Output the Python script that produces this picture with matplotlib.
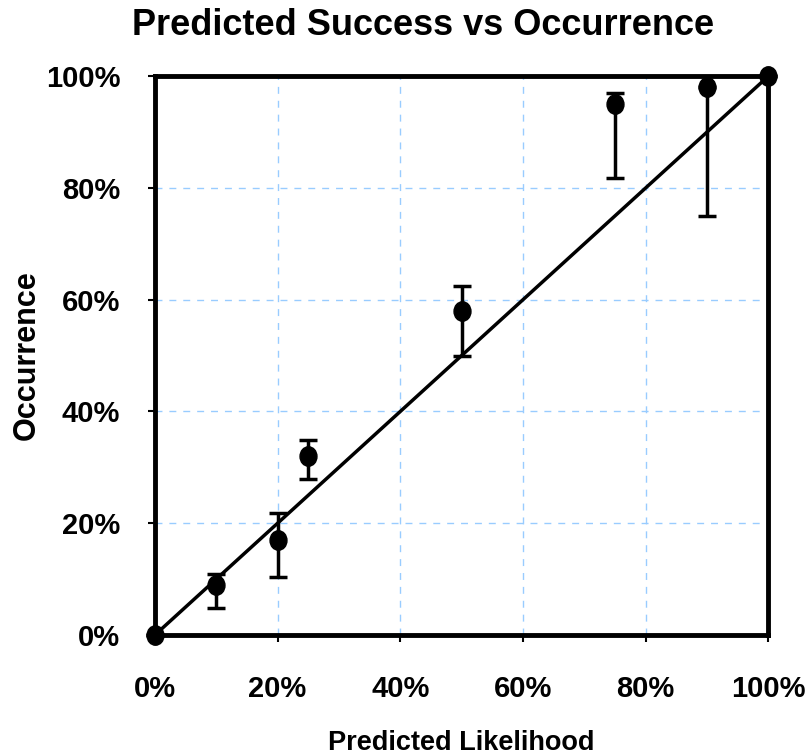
import matplotlib.pyplot as plt
from matplotlib.path import Path
from matplotlib.transforms import Affine2D
from matplotlib.ticker import PercentFormatter

plt.rcParams['font.family'] = ['Liberation Sans', 'DejaVu Sans']
plt.rcParams['font.weight'] = 'bold'

# predicted likelihood vs observed occurrence
predicted = [0.0, 0.10, 0.20, 0.25, 0.50, 0.75, 0.90, 1.0]
occurrence = [0.0, 0.09, 0.17, 0.32, 0.58, 0.95, 0.98, 1.0]
err_low = [0.0, 0.042, 0.066, 0.041, 0.081, 0.132, 0.23, 0.0]
err_high = [0.0, 0.019, 0.049, 0.029, 0.045, 0.02, 0.0, 0.0]
ticks = [0, 0.2, 0.4, 0.6, 0.8, 1.0]

# slightly tall oval marker
oval = Path.unit_circle().transformed(Affine2D().scale(0.87, 1.0))

fig = plt.figure(figsize=(8.07, 7.55), dpi=100)
ax = fig.add_axes([0.192, 0.159, 0.760, 0.740])

ax.grid(True, color='#99CCFF', linestyle=(0, (5, 5)), linewidth=1)
ax.set_axisbelow(True)

# perfect calibration line
ax.plot(predicted, predicted, color='black', linewidth=2.5, zorder=3)

ax.errorbar(predicted, occurrence, yerr=[err_low, err_high], fmt='none',
            ecolor='black', elinewidth=2.5, capsize=6.5, capthick=2.5, zorder=4,
            clip_on=False)
ax.plot(predicted, occurrence, linestyle='none', marker=oval, color='black',
        markersize=14, zorder=5, clip_on=False)

ax.set_xlim(0, 1)
ax.set_ylim(0, 1)
ax.set_xticks(ticks)
ax.set_yticks(ticks)
ax.xaxis.set_major_formatter(PercentFormatter(1.0, decimals=0))
ax.yaxis.set_major_formatter(PercentFormatter(1.0, decimals=0))
ax.tick_params(labelsize=21, length=5, width=1.5)
ax.tick_params(axis='x', pad=24)
ax.tick_params(axis='y', pad=20)

for side in ax.spines.values():
    side.set_linewidth(3.5)
    side.set_color('black')

fig.text(0.524, 0.9536, 'Predicted Success vs Occurrence', fontsize=26,
         fontweight='bold', ha='center', va='baseline')
ax.set_xlabel('Predicted Likelihood', fontsize=19.5, fontweight='bold', labelpad=19)
ax.set_ylabel('Occurrence', fontsize=22, fontweight='bold', labelpad=3)

fig.savefig('out.png', dpi=100)
